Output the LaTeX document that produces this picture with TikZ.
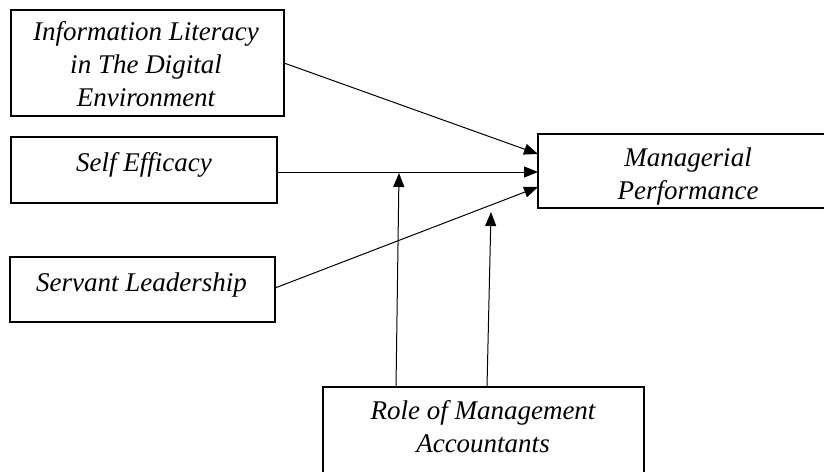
\documentclass[tikz,border=0pt]{standalone}
\usepackage{fontspec}
\setmainfont{Liberation Serif}
\usetikzlibrary{arrows.meta}
\begin{document}
\begin{tikzpicture}[x=1pt,y=-1pt,
  box/.style={draw,line width=1.8pt,rectangle,inner sep=0pt,outer sep=0pt},
  lbl/.style={font=\fontsize{27}{33}\selectfont\itshape,align=center,inner sep=0pt,anchor=base},
  conn/.style={line width=1pt,-{Triangle[length=14pt,width=11pt]}}]
\useasboundingbox (0,0) rectangle (824,471);
\clip (0,0) rectangle (824,471);
% boxes
\node[box,minimum width=273pt,minimum height=106pt] (b1) at (147.5,63) {};
\node[box,minimum width=266pt,minimum height=66pt] (b2) at (144,170) {};
\node[box,minimum width=265pt,minimum height=65pt] (b3) at (142.5,289.5) {};
\node[box,minimum width=300pt,minimum height=74pt] (b4) at (688,171) {};
\node[box,minimum width=321pt,minimum height=93pt] (b5) at (483.5,433.5) {};
% texts (base = baseline of last line)
\node[lbl] (t1) at (146,106) {Information Literacy\\in The Digital\\Environment};
\node[lbl] (t2) at (144,171.7) {Self Efficacy};
\node[lbl] (t3) at (141.5,291.7) {Servant Leadership};
\node[lbl] (t4) at (688,199) {Managerial\\Performance};
\node[lbl] (t5) at (483,452.7) {Role of Management\\Accountants};
% connectors
\coordinate (m1) at (399,173);
\coordinate (m2) at (491,212);
\draw[conn] (b1.east) -- ([yshift=17pt]b4.west);
\draw[conn] ([yshift=-2pt]b2.east) -- ([yshift=-1pt]b4.west);
\draw[conn] ([yshift=1.5pt]b3.east) -- ([yshift=-16pt]b4.west);
\draw[conn] ([xshift=-87.5pt]b5.north) -- (m1);
\draw[conn] ([xshift=3.5pt]b5.north) -- (m2);
\end{tikzpicture}
\end{document}
